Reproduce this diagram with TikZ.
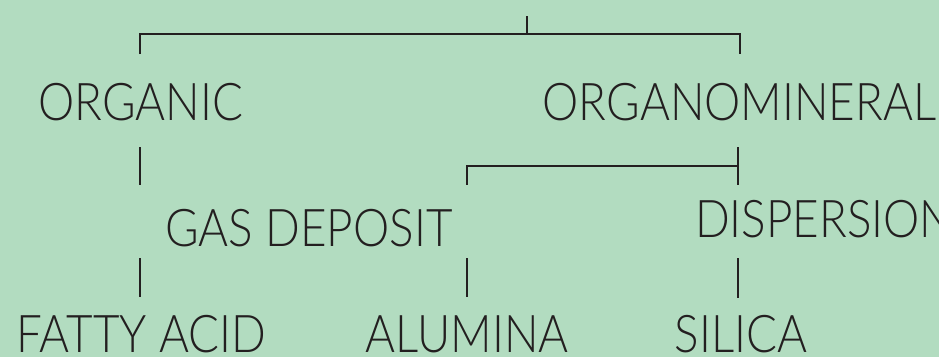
\documentclass[tikz,border=0pt]{standalone}
\usepackage{fontspec}
\IfFontExistsTF{Lato Light}
  {\setmainfont{Lato Light}[FakeStretch=0.88]}
  {\IfFontExistsTF{Fira Sans Light}
    {\setmainfont{Fira Sans Light}[FakeStretch=0.88]}
    {\IfFontExistsTF{Open Sans Light}
      {\setmainfont{Open Sans Light}[FakeStretch=0.87]}
      {\setmainfont{Open Sans}[FakeStretch=0.87]}}}
\definecolor{bg}{RGB}{178,220,192}
\definecolor{ink}{RGB}{35,31,32}
\begin{document}
\begin{tikzpicture}[x=1pt,y=-1pt,
  lbl/.style={anchor=base,inner sep=0pt,text=ink,font=\fontsize{52}{60}\selectfont},
  conn/.style={draw=ink,line width=2pt}]
\fill[bg] (0,0) rectangle (939,357);
\useasboundingbox (0,0) rectangle (939,357);
\clip (0,0) rectangle (939,357);
\node[lbl] (org) at (140.5,120) {ORGANIC};
\node[lbl] (orgmin) at (739.5,120) {ORGANOMINERAL};
\node[lbl,anchor=base west] (gas) at (165,246) {GAS DEPOSIT};
\node[lbl,anchor=base west] (disp) at (695,237) {DISPERSION};
\node[lbl] (fatty) at (141.5,352) {FATTY ACID};
\node[lbl] (alu) at (467,352) {ALUMINA};
\node[lbl] (sil) at (741,352) {SILICA};
% top bracket
\coordinate (t0) at (527,16);
\coordinate (t1) at (527,34);
\coordinate (tl) at (140,34);
\coordinate (tr) at (740,34);
\draw[conn] (t0) -- (t1);
\draw[conn] (140,54) -- (tl) -- (tr) -- (740,54);
% organic down
\draw[conn] (140,147) -- (140,185);
% second bracket
\draw[conn] (738,147) -- (738,185);
\draw[conn] (738,166) -- (467,166) -- (467,185);
% bottom verticals
\draw[conn] (140,258) -- (140,297);
\draw[conn] (467,258) -- (467,297);
\draw[conn] (738,258) -- (738,298);
\end{tikzpicture}
\end{document}
